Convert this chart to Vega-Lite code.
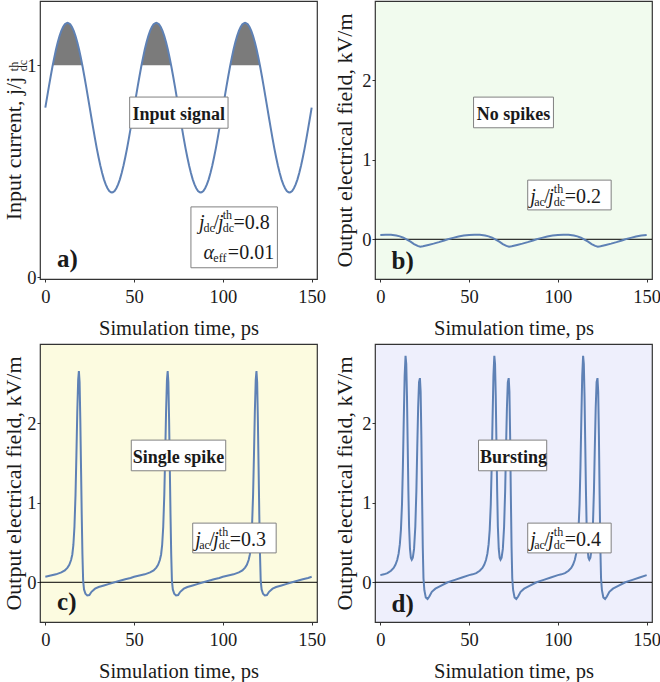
{
"$schema":"https://vega.github.io/schema/vega-lite/v6.json",
"padding":{"left":2,"top":0,"right":0,"bottom":0},
"background":"white",
"config":{
 "font":"Liberation Serif, DejaVu Serif, serif",
 "view":{"stroke":"#333333","strokeWidth":1.2},
 "axis":{"grid":false,"domain":false,"ticks":true,"tickSize":3,"tickColor":"#333333","labelFont":"Liberation Serif, DejaVu Serif, serif","titleFont":"Liberation Serif, DejaVu Serif, serif","labelFontSize":18.5,"labelColor":"#1a1a1a","titleColor":"#1a1a1a","titleFontWeight":"normal","labelFlush":false,"labelOverlap":false},
 "axisX":{"labelPadding":5.4,"titleFontSize":20.5,"titlePadding":13},
 "axisY":{"labelPadding":1,"titleFontSize":22,"titlePadding":5},
 "text":{"font":"Liberation Serif, DejaVu Serif, serif","color":"#1a1a1a"}
},
"datasets":{
"a":[{"t":0,"v":0.8},{"t":1,"v":0.85},{"t":2,"v":0.899},{"t":3,"v":0.947},{"t":4,"v":0.993},{"t":5,"v":1.035},{"t":6,"v":1.074},{"t":7,"v":1.108},{"t":8,"v":1.138},{"t":9,"v":1.162},{"t":10,"v":1.18},{"t":11,"v":1.193},{"t":12,"v":1.199},{"t":12.5,"v":1.2},{"t":13,"v":1.199},{"t":14,"v":1.193},{"t":15,"v":1.18},{"t":16,"v":1.162},{"t":17,"v":1.138},{"t":18,"v":1.108},{"t":19,"v":1.074},{"t":20,"v":1.035},{"t":21,"v":0.993},{"t":22,"v":0.947},{"t":23,"v":0.899},{"t":24,"v":0.85},{"t":25,"v":0.8},{"t":26,"v":0.75},{"t":27,"v":0.701},{"t":28,"v":0.653},{"t":29,"v":0.607},{"t":30,"v":0.565},{"t":31,"v":0.526},{"t":32,"v":0.492},{"t":33,"v":0.462},{"t":34,"v":0.438},{"t":35,"v":0.42},{"t":36,"v":0.407},{"t":37,"v":0.401},{"t":37.5,"v":0.4},{"t":38,"v":0.401},{"t":39,"v":0.407},{"t":40,"v":0.42},{"t":41,"v":0.438},{"t":42,"v":0.462},{"t":43,"v":0.492},{"t":44,"v":0.526},{"t":45,"v":0.565},{"t":46,"v":0.607},{"t":47,"v":0.653},{"t":48,"v":0.701},{"t":49,"v":0.75},
{"t":50,"v":0.8},{"t":51,"v":0.85},{"t":52,"v":0.899},{"t":53,"v":0.947},{"t":54,"v":0.993},{"t":55,"v":1.035},{"t":56,"v":1.074},{"t":57,"v":1.108},{"t":58,"v":1.138},{"t":59,"v":1.162},{"t":60,"v":1.18},{"t":61,"v":1.193},{"t":62,"v":1.199},{"t":62.5,"v":1.2},{"t":63,"v":1.199},{"t":64,"v":1.193},{"t":65,"v":1.18},{"t":66,"v":1.162},{"t":67,"v":1.138},{"t":68,"v":1.108},{"t":69,"v":1.074},{"t":70,"v":1.035},{"t":71,"v":0.993},{"t":72,"v":0.947},{"t":73,"v":0.899},{"t":74,"v":0.85},{"t":75,"v":0.8},{"t":76,"v":0.75},{"t":77,"v":0.701},{"t":78,"v":0.653},{"t":79,"v":0.607},{"t":80,"v":0.565},{"t":81,"v":0.526},{"t":82,"v":0.492},{"t":83,"v":0.462},{"t":84,"v":0.438},{"t":85,"v":0.42},{"t":86,"v":0.407},{"t":87,"v":0.401},{"t":87.5,"v":0.4},{"t":88,"v":0.401},{"t":89,"v":0.407},{"t":90,"v":0.42},{"t":91,"v":0.438},{"t":92,"v":0.462},{"t":93,"v":0.492},{"t":94,"v":0.526},{"t":95,"v":0.565},{"t":96,"v":0.607},{"t":97,"v":0.653},{"t":98,"v":0.701},{"t":99,"v":0.75},
{"t":100,"v":0.8},{"t":101,"v":0.85},{"t":102,"v":0.899},{"t":103,"v":0.947},{"t":104,"v":0.993},{"t":105,"v":1.035},{"t":106,"v":1.074},{"t":107,"v":1.108},{"t":108,"v":1.138},{"t":109,"v":1.162},{"t":110,"v":1.18},{"t":111,"v":1.193},{"t":112,"v":1.199},{"t":112.5,"v":1.2},{"t":113,"v":1.199},{"t":114,"v":1.193},{"t":115,"v":1.18},{"t":116,"v":1.162},{"t":117,"v":1.138},{"t":118,"v":1.108},{"t":119,"v":1.074},{"t":120,"v":1.035},{"t":121,"v":0.993},{"t":122,"v":0.947},{"t":123,"v":0.899},{"t":124,"v":0.85},{"t":125,"v":0.8},{"t":126,"v":0.75},{"t":127,"v":0.701},{"t":128,"v":0.653},{"t":129,"v":0.607},{"t":130,"v":0.565},{"t":131,"v":0.526},{"t":132,"v":0.492},{"t":133,"v":0.462},{"t":134,"v":0.438},{"t":135,"v":0.42},{"t":136,"v":0.407},{"t":137,"v":0.401},{"t":137.5,"v":0.4},{"t":138,"v":0.401},{"t":139,"v":0.407},{"t":140,"v":0.42},{"t":141,"v":0.438},{"t":142,"v":0.462},{"t":143,"v":0.492},{"t":144,"v":0.526},{"t":145,"v":0.565},{"t":146,"v":0.607},{"t":147,"v":0.653},{"t":148,"v":0.701},{"t":149,"v":0.75},{"t":150,"v":0.8}],
"hump":[{"h":1,"t":4.17,"v":1},{"h":1,"t":5,"v":1.035},{"h":1,"t":6,"v":1.074},{"h":1,"t":7,"v":1.108},{"h":1,"t":8,"v":1.138},{"h":1,"t":9,"v":1.162},{"h":1,"t":10,"v":1.18},{"h":1,"t":11,"v":1.193},{"h":1,"t":12,"v":1.199},{"h":1,"t":12.5,"v":1.2},{"h":1,"t":13,"v":1.199},{"h":1,"t":14,"v":1.193},{"h":1,"t":15,"v":1.18},{"h":1,"t":16,"v":1.162},{"h":1,"t":17,"v":1.138},{"h":1,"t":18,"v":1.108},{"h":1,"t":19,"v":1.074},{"h":1,"t":20,"v":1.035},{"h":1,"t":20.83,"v":1},
{"h":2,"t":54.17,"v":1},{"h":2,"t":55,"v":1.035},{"h":2,"t":56,"v":1.074},{"h":2,"t":57,"v":1.108},{"h":2,"t":58,"v":1.138},{"h":2,"t":59,"v":1.162},{"h":2,"t":60,"v":1.18},{"h":2,"t":61,"v":1.193},{"h":2,"t":62,"v":1.199},{"h":2,"t":62.5,"v":1.2},{"h":2,"t":63,"v":1.199},{"h":2,"t":64,"v":1.193},{"h":2,"t":65,"v":1.18},{"h":2,"t":66,"v":1.162},{"h":2,"t":67,"v":1.138},{"h":2,"t":68,"v":1.108},{"h":2,"t":69,"v":1.074},{"h":2,"t":70,"v":1.035},{"h":2,"t":70.83,"v":1},
{"h":3,"t":104.17,"v":1},{"h":3,"t":105,"v":1.035},{"h":3,"t":106,"v":1.074},{"h":3,"t":107,"v":1.108},{"h":3,"t":108,"v":1.138},{"h":3,"t":109,"v":1.162},{"h":3,"t":110,"v":1.18},{"h":3,"t":111,"v":1.193},{"h":3,"t":112,"v":1.199},{"h":3,"t":112.5,"v":1.2},{"h":3,"t":113,"v":1.199},{"h":3,"t":114,"v":1.193},{"h":3,"t":115,"v":1.18},{"h":3,"t":116,"v":1.162},{"h":3,"t":117,"v":1.138},{"h":3,"t":118,"v":1.108},{"h":3,"t":119,"v":1.074},{"h":3,"t":120,"v":1.035},{"h":3,"t":120.83,"v":1}],
"b":[{"t":0,"v":0.055},{"t":3,"v":0.058},{"t":6,"v":0.056},{"t":9,"v":0.048},{"t":11,"v":0.037},{"t":13,"v":0.02},{"t":15,"v":-0.003},{"t":17,"v":-0.03},{"t":19,"v":-0.06},{"t":21,"v":-0.083},{"t":22.5,"v":-0.093},{"t":24,"v":-0.088},{"t":27,"v":-0.072},{"t":30,"v":-0.055},{"t":33,"v":-0.036},{"t":36,"v":-0.015},{"t":38,"v":0},{"t":41,"v":0.018},{"t":44,"v":0.035},{"t":47,"v":0.048},
{"t":50,"v":0.055},{"t":53,"v":0.058},{"t":56,"v":0.056},{"t":59,"v":0.048},{"t":61,"v":0.037},{"t":63,"v":0.02},{"t":65,"v":-0.003},{"t":67,"v":-0.03},{"t":69,"v":-0.06},{"t":71,"v":-0.083},{"t":72.5,"v":-0.093},{"t":74,"v":-0.088},{"t":77,"v":-0.072},{"t":80,"v":-0.055},{"t":83,"v":-0.036},{"t":86,"v":-0.015},{"t":88,"v":0},{"t":91,"v":0.018},{"t":94,"v":0.035},{"t":97,"v":0.048},
{"t":100,"v":0.055},{"t":103,"v":0.058},{"t":106,"v":0.056},{"t":109,"v":0.048},{"t":111,"v":0.037},{"t":113,"v":0.02},{"t":115,"v":-0.003},{"t":117,"v":-0.03},{"t":119,"v":-0.06},{"t":121,"v":-0.083},{"t":122.5,"v":-0.093},{"t":124,"v":-0.088},{"t":127,"v":-0.072},{"t":130,"v":-0.055},{"t":133,"v":-0.036},{"t":136,"v":-0.015},{"t":138,"v":0},{"t":141,"v":0.018},{"t":144,"v":0.035},{"t":147,"v":0.048},{"t":150,"v":0.055}],
"c":[{"t":0,"v":0.07},{"t":3,"v":0.085},{"t":6,"v":0.1},{"t":9,"v":0.125},{"t":11,"v":0.15},{"t":12.5,"v":0.185},{"t":13.5,"v":0.22},{"t":14.5,"v":0.28},{"t":15.2,"v":0.35},{"t":15.8,"v":0.47},{"t":16.4,"v":0.7},{"t":17,"v":1.1},{"t":17.5,"v":1.6},{"t":18,"v":2.15},{"t":18.5,"v":2.55},{"t":18.9,"v":2.66},{"t":19.3,"v":2.52},{"t":19.7,"v":2.05},{"t":20.1,"v":1.45},{"t":20.5,"v":0.85},{"t":20.9,"v":0.35},{"t":21.3,"v":0.02},{"t":21.8,"v":-0.09},{"t":22.6,"v":-0.145},{"t":23.6,"v":-0.165},{"t":24.8,"v":-0.16},{"t":26,"v":-0.12},{"t":28,"v":-0.08},{"t":30,"v":-0.06},{"t":33,"v":-0.04},{"t":36,"v":-0.02},{"t":39,"v":0},{"t":42,"v":0.02},{"t":45,"v":0.038},{"t":48,"v":0.055},
{"t":50,"v":0.07},{"t":53,"v":0.085},{"t":56,"v":0.1},{"t":59,"v":0.125},{"t":61,"v":0.15},{"t":62.5,"v":0.185},{"t":63.5,"v":0.22},{"t":64.5,"v":0.28},{"t":65.2,"v":0.35},{"t":65.8,"v":0.47},{"t":66.4,"v":0.7},{"t":67,"v":1.1},{"t":67.5,"v":1.6},{"t":68,"v":2.15},{"t":68.5,"v":2.55},{"t":68.9,"v":2.66},{"t":69.3,"v":2.52},{"t":69.7,"v":2.05},{"t":70.1,"v":1.45},{"t":70.5,"v":0.85},{"t":70.9,"v":0.35},{"t":71.3,"v":0.02},{"t":71.8,"v":-0.09},{"t":72.6,"v":-0.145},{"t":73.6,"v":-0.165},{"t":74.8,"v":-0.16},{"t":76,"v":-0.12},{"t":78,"v":-0.08},{"t":80,"v":-0.06},{"t":83,"v":-0.04},{"t":86,"v":-0.02},{"t":89,"v":0},{"t":92,"v":0.02},{"t":95,"v":0.038},{"t":98,"v":0.055},
{"t":100,"v":0.07},{"t":103,"v":0.085},{"t":106,"v":0.1},{"t":109,"v":0.125},{"t":111,"v":0.15},{"t":112.5,"v":0.185},{"t":113.5,"v":0.22},{"t":114.5,"v":0.28},{"t":115.2,"v":0.35},{"t":115.8,"v":0.47},{"t":116.4,"v":0.7},{"t":117,"v":1.1},{"t":117.5,"v":1.6},{"t":118,"v":2.15},{"t":118.5,"v":2.55},{"t":118.9,"v":2.66},{"t":119.3,"v":2.52},{"t":119.7,"v":2.05},{"t":120.1,"v":1.45},{"t":120.5,"v":0.85},{"t":120.9,"v":0.35},{"t":121.3,"v":0.02},{"t":121.8,"v":-0.09},{"t":122.6,"v":-0.145},{"t":123.6,"v":-0.165},{"t":124.8,"v":-0.16},{"t":126,"v":-0.12},{"t":128,"v":-0.08},{"t":130,"v":-0.06},{"t":133,"v":-0.04},{"t":136,"v":-0.02},{"t":139,"v":0},{"t":142,"v":0.02},{"t":145,"v":0.038},{"t":148,"v":0.055},{"t":150,"v":0.07}],
"d":[{"t":0,"v":0.09},{"t":2,"v":0.1},{"t":4,"v":0.115},{"t":6,"v":0.145},{"t":7.5,"v":0.18},{"t":8.5,"v":0.22},{"t":9.5,"v":0.28},{"t":10.3,"v":0.36},{"t":11,"v":0.48},{"t":11.6,"v":0.66},{"t":12.2,"v":0.98},{"t":12.7,"v":1.45},{"t":13.2,"v":2.05},{"t":13.7,"v":2.6},{"t":14.2,"v":2.85},{"t":14.6,"v":2.75},{"t":15,"v":2.35},{"t":15.4,"v":1.75},{"t":15.8,"v":1.15},{"t":16.2,"v":0.7},{"t":16.7,"v":0.42},{"t":17.2,"v":0.31},{"t":17.7,"v":0.285},{"t":18.3,"v":0.31},{"t":19,"v":0.42},{"t":19.7,"v":0.7},{"t":20.3,"v":1.15},{"t":20.8,"v":1.7},{"t":21.3,"v":2.2},{"t":21.8,"v":2.52},{"t":22.3,"v":2.57},{"t":22.7,"v":2.4},{"t":23.1,"v":1.85},{"t":23.5,"v":1.1},{"t":23.9,"v":0.45},{"t":24.3,"v":0.05},{"t":24.8,"v":-0.1},{"t":25.6,"v":-0.19},{"t":26.6,"v":-0.21},{"t":27.6,"v":-0.18},{"t":29,"v":-0.12},{"t":31,"v":-0.08},{"t":34,"v":-0.045},{"t":38,"v":0},{"t":42,"v":0.03},{"t":46,"v":0.06},
{"t":50,"v":0.09},{"t":52,"v":0.1},{"t":54,"v":0.115},{"t":56,"v":0.145},{"t":57.5,"v":0.18},{"t":58.5,"v":0.22},{"t":59.5,"v":0.28},{"t":60.3,"v":0.36},{"t":61,"v":0.48},{"t":61.6,"v":0.66},{"t":62.2,"v":0.98},{"t":62.7,"v":1.45},{"t":63.2,"v":2.05},{"t":63.7,"v":2.6},{"t":64.2,"v":2.85},{"t":64.6,"v":2.75},{"t":65,"v":2.35},{"t":65.4,"v":1.75},{"t":65.8,"v":1.15},{"t":66.2,"v":0.7},{"t":66.7,"v":0.42},{"t":67.2,"v":0.31},{"t":67.7,"v":0.285},{"t":68.3,"v":0.31},{"t":69,"v":0.42},{"t":69.7,"v":0.7},{"t":70.3,"v":1.15},{"t":70.8,"v":1.7},{"t":71.3,"v":2.2},{"t":71.8,"v":2.52},{"t":72.3,"v":2.57},{"t":72.7,"v":2.4},{"t":73.1,"v":1.85},{"t":73.5,"v":1.1},{"t":73.9,"v":0.45},{"t":74.3,"v":0.05},{"t":74.8,"v":-0.1},{"t":75.6,"v":-0.19},{"t":76.6,"v":-0.21},{"t":77.6,"v":-0.18},{"t":79,"v":-0.12},{"t":81,"v":-0.08},{"t":84,"v":-0.045},{"t":88,"v":0},{"t":92,"v":0.03},{"t":96,"v":0.06},
{"t":100,"v":0.09},{"t":102,"v":0.1},{"t":104,"v":0.115},{"t":106,"v":0.145},{"t":107.5,"v":0.18},{"t":108.5,"v":0.22},{"t":109.5,"v":0.28},{"t":110.3,"v":0.36},{"t":111,"v":0.48},{"t":111.6,"v":0.66},{"t":112.2,"v":0.98},{"t":112.7,"v":1.45},{"t":113.2,"v":2.05},{"t":113.7,"v":2.6},{"t":114.2,"v":2.85},{"t":114.6,"v":2.75},{"t":115,"v":2.35},{"t":115.4,"v":1.75},{"t":115.8,"v":1.15},{"t":116.2,"v":0.7},{"t":116.7,"v":0.42},{"t":117.2,"v":0.31},{"t":117.7,"v":0.285},{"t":118.3,"v":0.31},{"t":119,"v":0.42},{"t":119.7,"v":0.7},{"t":120.3,"v":1.15},{"t":120.8,"v":1.7},{"t":121.3,"v":2.2},{"t":121.8,"v":2.52},{"t":122.3,"v":2.57},{"t":122.7,"v":2.4},{"t":123.1,"v":1.85},{"t":123.5,"v":1.1},{"t":123.9,"v":0.45},{"t":124.3,"v":0.05},{"t":124.8,"v":-0.1},{"t":125.6,"v":-0.19},{"t":126.6,"v":-0.21},{"t":127.6,"v":-0.18},{"t":129,"v":-0.12},{"t":131,"v":-0.08},{"t":134,"v":-0.045},{"t":138,"v":0},{"t":142,"v":0.03},{"t":146,"v":0.06},{"t":150,"v":0.09}],
"zero":[{"v":0}],
"boxes":[{"p":"a","t":47.5,"t2":102.9,"v":0.703,"v2":0.85},{"p":"a","t":82,"t2":130.7,"v":0.045,"v2":0.332},
{"p":"b","t":52.5,"t2":97.5,"v":1.404,"v2":1.79},{"p":"b","t":83,"t2":130,"v":0.37,"v2":0.745},
{"p":"c","t":48.4,"t2":101.6,"v":1.404,"v2":1.79},{"p":"c","t":83,"t2":130,"v":0.37,"v2":0.745},
{"p":"d","t":55.3,"t2":93.7,"v":1.404,"v2":1.79},{"p":"d","t":83,"t2":130,"v":0.37,"v2":0.745}],
"notes":[
{"p":"a","k":"title","t":75.1,"v":0.741,"s":"Input signal"},
{"p":"a","k":"it","t":86.6,"v":0.226,"s":"j"},
{"p":"a","k":"sc","t":89.1,"v":0.212,"s":"dc"},
{"p":"a","k":"rm","t":94.7,"v":0.226,"s":"/"},
{"p":"a","k":"it","t":97.2,"v":0.226,"s":"j"},
{"p":"a","k":"sc","t":99.9,"v":0.274,"s":"th"},
{"p":"a","k":"sc","t":99.9,"v":0.212,"s":"dc"},
{"p":"a","k":"rm","t":106,"v":0.226,"s":"=0.8"},
{"p":"a","k":"it","t":89.1,"v":0.085,"s":"α"},
{"p":"a","k":"sc","t":94.6,"v":0.071,"s":"eff"},
{"p":"a","k":"rm","t":102.8,"v":0.085,"s":"=0.01"},
{"p":"a","k":"tag","t":6.6,"v":0.049,"s":"a)"},
{"p":"a","k":"yt","t":-17.5,"v":0.972,"s":"th"},
{"p":"a","k":"yt","t":-12.7,"v":0.972,"s":"dc"},
{"p":"b","k":"title","t":75,"v":1.5,"s":"No spikes"},
{"p":"b","k":"it","t":84.4,"v":0.457,"s":"j"},
{"p":"b","k":"sc","t":86.7,"v":0.419,"s":"ac"},
{"p":"b","k":"rm","t":92.3,"v":0.457,"s":"/"},
{"p":"b","k":"it","t":94.6,"v":0.457,"s":"j"},
{"p":"b","k":"sc","t":97.7,"v":0.582,"s":"th"},
{"p":"b","k":"sc","t":97.7,"v":0.419,"s":"dc"},
{"p":"b","k":"rm","t":103.9,"v":0.457,"s":"=0.2"},
{"p":"b","k":"tag","t":6.3,"v":-0.37,"s":"b)"},
{"p":"c","k":"title","t":75,"v":1.5,"s":"Single spike"},
{"p":"c","k":"it","t":84.4,"v":0.457,"s":"j"},
{"p":"c","k":"sc","t":86.7,"v":0.419,"s":"ac"},
{"p":"c","k":"rm","t":92.3,"v":0.457,"s":"/"},
{"p":"c","k":"it","t":94.6,"v":0.457,"s":"j"},
{"p":"c","k":"sc","t":97.7,"v":0.582,"s":"th"},
{"p":"c","k":"sc","t":97.7,"v":0.419,"s":"dc"},
{"p":"c","k":"rm","t":103.9,"v":0.457,"s":"=0.3"},
{"p":"c","k":"tag","t":6.6,"v":-0.35,"s":"c)"},
{"p":"d","k":"title","t":75,"v":1.5,"s":"Bursting"},
{"p":"d","k":"it","t":84.4,"v":0.457,"s":"j"},
{"p":"d","k":"sc","t":86.7,"v":0.419,"s":"ac"},
{"p":"d","k":"rm","t":92.3,"v":0.457,"s":"/"},
{"p":"d","k":"it","t":94.6,"v":0.457,"s":"j"},
{"p":"d","k":"sc","t":97.7,"v":0.582,"s":"th"},
{"p":"d","k":"sc","t":97.7,"v":0.419,"s":"dc"},
{"p":"d","k":"rm","t":103.9,"v":0.457,"s":"=0.4"},
{"p":"d","k":"tag","t":6.3,"v":-0.37,"s":"d)"}
]
},
"columns":2,
"spacing":{"row":65,"column":58},
"bounds":"flush",
"concat":[
{"width":277,"height":278,"view":{"fill":"white"},
 "layer":[
  {"data":{"name":"hump"},"mark":{"type":"area","color":"#7b7b7b"},"encoding":{"x":{"field":"t","type":"quantitative","scale":{"domain":[-3,153],"nice":false,"zero":false},"axis":{"values":[0,50,100,150],"format":".0f","title":"Simulation time, ps"}},"y":{"field":"v","type":"quantitative","scale":{"domain":[-0.008,1.303],"nice":false,"zero":false},"axis":{"values":[0,1],"format":".0f","title":"Input current, j/j","titleY":147,"titlePadding":1}},"y2":{"datum":1},"detail":{"field":"h"}}},
  {"data":{"name":"a"},"mark":{"type":"line","color":"#5e81b5","strokeWidth":2},"encoding":{"x":{"field":"t","type":"quantitative"},"y":{"field":"v","type":"quantitative"}}},
  {"data":{"name":"boxes"},"transform":[{"filter":"datum.p==='a'"}],"mark":{"type":"rect","fill":"white","stroke":"#808080","strokeWidth":1},"encoding":{"x":{"field":"t","type":"quantitative"},"x2":{"field":"t2"},"y":{"field":"v","type":"quantitative"},"y2":{"field":"v2"}}},
  {"data":{"name":"notes"},"transform":[{"filter":"datum.p==='a' && datum.k==='title'"}],"mark":{"type":"text","fontWeight":"bold","fontSize":18,"align":"center","baseline":"alphabetic"},"encoding":{"x":{"field":"t","type":"quantitative"},"y":{"field":"v","type":"quantitative"},"text":{"field":"s"}}},
  {"data":{"name":"notes"},"transform":[{"filter":"datum.p==='a' && datum.k==='it'"}],"mark":{"type":"text","fontStyle":"italic","fontSize":20,"align":"left","baseline":"alphabetic"},"encoding":{"x":{"field":"t","type":"quantitative"},"y":{"field":"v","type":"quantitative"},"text":{"field":"s"}}},
  {"data":{"name":"notes"},"transform":[{"filter":"datum.p==='a' && datum.k==='rm'"}],"mark":{"type":"text","fontSize":20,"align":"left","baseline":"alphabetic"},"encoding":{"x":{"field":"t","type":"quantitative"},"y":{"field":"v","type":"quantitative"},"text":{"field":"s"}}},
  {"data":{"name":"notes"},"transform":[{"filter":"datum.p==='a' && datum.k==='sc'"}],"mark":{"type":"text","fontSize":12,"align":"left","baseline":"alphabetic"},"encoding":{"x":{"field":"t","type":"quantitative"},"y":{"field":"v","type":"quantitative"},"text":{"field":"s"}}},
  {"data":{"name":"notes"},"transform":[{"filter":"datum.p==='a' && datum.k==='tag'"}],"mark":{"type":"text","fontWeight":"bold","fontSize":25,"align":"left","baseline":"alphabetic"},"encoding":{"x":{"field":"t","type":"quantitative"},"y":{"field":"v","type":"quantitative"},"text":{"field":"s"}}},
  {"data":{"name":"notes"},"transform":[{"filter":"datum.p==='a' && datum.k==='yt'"}],"mark":{"type":"text","fontSize":12,"angle":270,"align":"left","baseline":"middle"},"encoding":{"x":{"field":"t","type":"quantitative"},"y":{"field":"v","type":"quantitative"},"text":{"field":"s"}}}
 ]},
{"width":277,"height":278,"view":{"fill":"#f1fbee"},
 "layer":[
  {"data":{"name":"zero"},"mark":{"type":"rule","color":"#000000","strokeWidth":1},"encoding":{"y":{"field":"v","type":"quantitative","scale":{"domain":[-0.5,3],"nice":false,"zero":false},"axis":{"values":[0,1,2],"format":".0f","title":"Output electrical field, kV/m"}}}},
  {"data":{"name":"b"},"mark":{"type":"line","color":"#5e81b5","strokeWidth":2},"encoding":{"x":{"field":"t","type":"quantitative","scale":{"domain":[-3,153],"nice":false,"zero":false},"axis":{"values":[0,50,100,150],"format":".0f","title":"Simulation time, ps"}},"y":{"field":"v","type":"quantitative"}}},
  {"data":{"name":"boxes"},"transform":[{"filter":"datum.p==='b'"}],"mark":{"type":"rect","fill":"white","stroke":"#808080","strokeWidth":1},"encoding":{"x":{"field":"t","type":"quantitative"},"x2":{"field":"t2"},"y":{"field":"v","type":"quantitative"},"y2":{"field":"v2"}}},
  {"data":{"name":"notes"},"transform":[{"filter":"datum.p==='b' && datum.k==='title'"}],"mark":{"type":"text","fontWeight":"bold","fontSize":18,"align":"center","baseline":"alphabetic"},"encoding":{"x":{"field":"t","type":"quantitative"},"y":{"field":"v","type":"quantitative"},"text":{"field":"s"}}},
  {"data":{"name":"notes"},"transform":[{"filter":"datum.p==='b' && datum.k==='it'"}],"mark":{"type":"text","fontStyle":"italic","fontSize":20,"align":"left","baseline":"alphabetic"},"encoding":{"x":{"field":"t","type":"quantitative"},"y":{"field":"v","type":"quantitative"},"text":{"field":"s"}}},
  {"data":{"name":"notes"},"transform":[{"filter":"datum.p==='b' && datum.k==='rm'"}],"mark":{"type":"text","fontSize":20,"align":"left","baseline":"alphabetic"},"encoding":{"x":{"field":"t","type":"quantitative"},"y":{"field":"v","type":"quantitative"},"text":{"field":"s"}}},
  {"data":{"name":"notes"},"transform":[{"filter":"datum.p==='b' && datum.k==='sc'"}],"mark":{"type":"text","fontSize":12,"align":"left","baseline":"alphabetic"},"encoding":{"x":{"field":"t","type":"quantitative"},"y":{"field":"v","type":"quantitative"},"text":{"field":"s"}}},
  {"data":{"name":"notes"},"transform":[{"filter":"datum.p==='b' && datum.k==='tag'"}],"mark":{"type":"text","fontWeight":"bold","fontSize":25,"align":"left","baseline":"alphabetic"},"encoding":{"x":{"field":"t","type":"quantitative"},"y":{"field":"v","type":"quantitative"},"text":{"field":"s"}}}
 ]},
{"width":277,"height":278,"view":{"fill":"#fcfbe0"},
 "layer":[
  {"data":{"name":"zero"},"mark":{"type":"rule","color":"#000000","strokeWidth":1},"encoding":{"y":{"field":"v","type":"quantitative","scale":{"domain":[-0.5,3],"nice":false,"zero":false},"axis":{"values":[0,1,2],"format":".0f","title":"Output electrical field, kV/m","titlePadding":1}}}},
  {"data":{"name":"c"},"mark":{"type":"line","color":"#5e81b5","strokeWidth":2},"encoding":{"x":{"field":"t","type":"quantitative","scale":{"domain":[-3,153],"nice":false,"zero":false},"axis":{"values":[0,50,100,150],"format":".0f","title":"Simulation time, ps"}},"y":{"field":"v","type":"quantitative"}}},
  {"data":{"name":"boxes"},"transform":[{"filter":"datum.p==='c'"}],"mark":{"type":"rect","fill":"white","stroke":"#808080","strokeWidth":1},"encoding":{"x":{"field":"t","type":"quantitative"},"x2":{"field":"t2"},"y":{"field":"v","type":"quantitative"},"y2":{"field":"v2"}}},
  {"data":{"name":"notes"},"transform":[{"filter":"datum.p==='c' && datum.k==='title'"}],"mark":{"type":"text","fontWeight":"bold","fontSize":18,"align":"center","baseline":"alphabetic"},"encoding":{"x":{"field":"t","type":"quantitative"},"y":{"field":"v","type":"quantitative"},"text":{"field":"s"}}},
  {"data":{"name":"notes"},"transform":[{"filter":"datum.p==='c' && datum.k==='it'"}],"mark":{"type":"text","fontStyle":"italic","fontSize":20,"align":"left","baseline":"alphabetic"},"encoding":{"x":{"field":"t","type":"quantitative"},"y":{"field":"v","type":"quantitative"},"text":{"field":"s"}}},
  {"data":{"name":"notes"},"transform":[{"filter":"datum.p==='c' && datum.k==='rm'"}],"mark":{"type":"text","fontSize":20,"align":"left","baseline":"alphabetic"},"encoding":{"x":{"field":"t","type":"quantitative"},"y":{"field":"v","type":"quantitative"},"text":{"field":"s"}}},
  {"data":{"name":"notes"},"transform":[{"filter":"datum.p==='c' && datum.k==='sc'"}],"mark":{"type":"text","fontSize":12,"align":"left","baseline":"alphabetic"},"encoding":{"x":{"field":"t","type":"quantitative"},"y":{"field":"v","type":"quantitative"},"text":{"field":"s"}}},
  {"data":{"name":"notes"},"transform":[{"filter":"datum.p==='c' && datum.k==='tag'"}],"mark":{"type":"text","fontWeight":"bold","fontSize":25,"align":"left","baseline":"alphabetic"},"encoding":{"x":{"field":"t","type":"quantitative"},"y":{"field":"v","type":"quantitative"},"text":{"field":"s"}}}
 ]},
{"width":277,"height":278,"view":{"fill":"#eeeffc"},
 "layer":[
  {"data":{"name":"zero"},"mark":{"type":"rule","color":"#000000","strokeWidth":1},"encoding":{"y":{"field":"v","type":"quantitative","scale":{"domain":[-0.5,3],"nice":false,"zero":false},"axis":{"values":[0,1,2],"format":".0f","title":"Output electrical field, kV/m"}}}},
  {"data":{"name":"d"},"mark":{"type":"line","color":"#5e81b5","strokeWidth":2},"encoding":{"x":{"field":"t","type":"quantitative","scale":{"domain":[-3,153],"nice":false,"zero":false},"axis":{"values":[0,50,100,150],"format":".0f","title":"Simulation time, ps"}},"y":{"field":"v","type":"quantitative"}}},
  {"data":{"name":"boxes"},"transform":[{"filter":"datum.p==='d'"}],"mark":{"type":"rect","fill":"white","stroke":"#808080","strokeWidth":1},"encoding":{"x":{"field":"t","type":"quantitative"},"x2":{"field":"t2"},"y":{"field":"v","type":"quantitative"},"y2":{"field":"v2"}}},
  {"data":{"name":"notes"},"transform":[{"filter":"datum.p==='d' && datum.k==='title'"}],"mark":{"type":"text","fontWeight":"bold","fontSize":18,"align":"center","baseline":"alphabetic"},"encoding":{"x":{"field":"t","type":"quantitative"},"y":{"field":"v","type":"quantitative"},"text":{"field":"s"}}},
  {"data":{"name":"notes"},"transform":[{"filter":"datum.p==='d' && datum.k==='it'"}],"mark":{"type":"text","fontStyle":"italic","fontSize":20,"align":"left","baseline":"alphabetic"},"encoding":{"x":{"field":"t","type":"quantitative"},"y":{"field":"v","type":"quantitative"},"text":{"field":"s"}}},
  {"data":{"name":"notes"},"transform":[{"filter":"datum.p==='d' && datum.k==='rm'"}],"mark":{"type":"text","fontSize":20,"align":"left","baseline":"alphabetic"},"encoding":{"x":{"field":"t","type":"quantitative"},"y":{"field":"v","type":"quantitative"},"text":{"field":"s"}}},
  {"data":{"name":"notes"},"transform":[{"filter":"datum.p==='d' && datum.k==='sc'"}],"mark":{"type":"text","fontSize":12,"align":"left","baseline":"alphabetic"},"encoding":{"x":{"field":"t","type":"quantitative"},"y":{"field":"v","type":"quantitative"},"text":{"field":"s"}}},
  {"data":{"name":"notes"},"transform":[{"filter":"datum.p==='d' && datum.k==='tag'"}],"mark":{"type":"text","fontWeight":"bold","fontSize":25,"align":"left","baseline":"alphabetic"},"encoding":{"x":{"field":"t","type":"quantitative"},"y":{"field":"v","type":"quantitative"},"text":{"field":"s"}}}
 ]}
]
}
